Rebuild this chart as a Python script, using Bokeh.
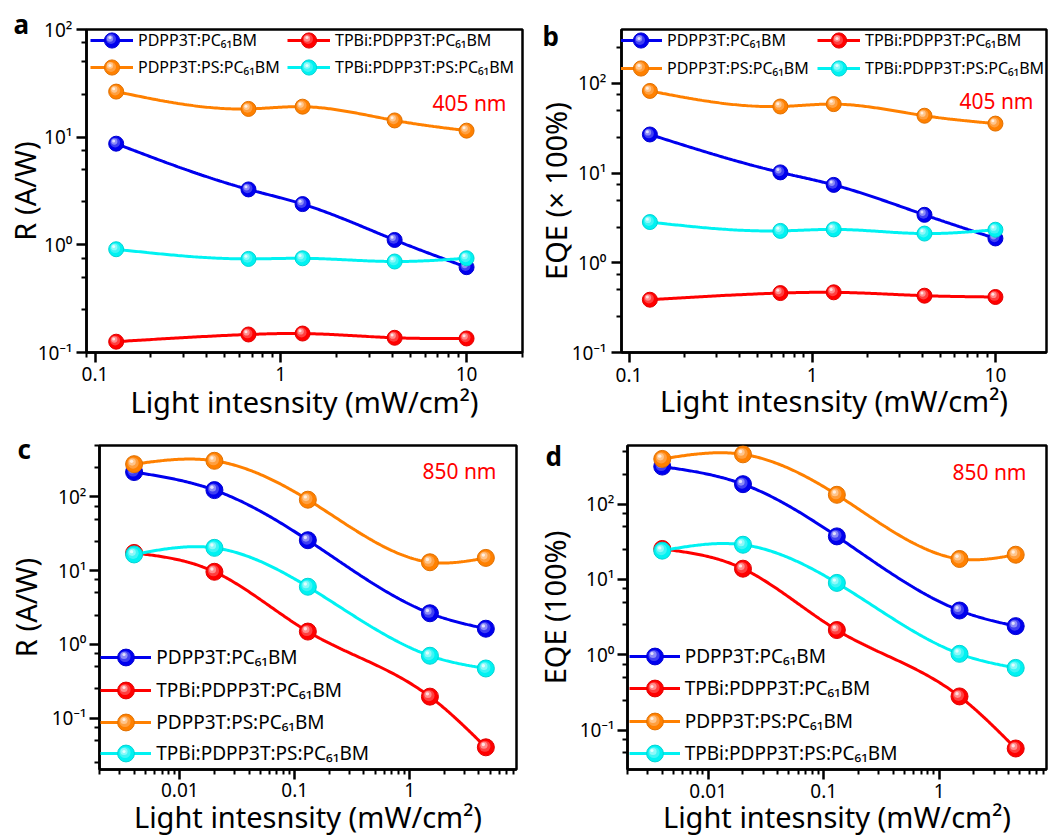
import numpy as np
from bokeh.plotting import figure
from bokeh.models import (FixedTicker, CustomJSTickFormatter, Legend, LegendItem,
                          Label, Range1d)
from bokeh.layouts import column, row
from bokeh.embed import file_html
from bokeh.resources import INLINE

FONT = "Noto Sans"

SERIES = ["PDPP3T:PC₆₁BM", "TPBi:PDPP3T:PC₆₁BM",
          "PDPP3T:PS:PC₆₁BM", "TPBi:PDPP3T:PS:PC₆₁BM"]
COLORS = ["#0000EE", "#FF0000", "#FF8000", "#00F2F2"]

X_LABEL = "Light intesnsity (mW/cm²)"

# ---- 405 nm illumination ----
intensity_405 = [0.13, 0.67, 1.31, 4.1, 10.0]
R_405_pdpp = [8.7, 3.27, 2.39, 1.11, 0.62]
R_405_tpbi = [0.126, 0.147, 0.150, 0.137, 0.135]
R_405_ps = [26.5, 18.3, 19.2, 14.3, 11.5]
R_405_tpbi_ps = [0.91, 0.74, 0.75, 0.70, 0.75]

EQE_405_pdpp = [27.0, 10.2, 7.4, 3.43, 1.87]
EQE_405_tpbi = [0.388, 0.46, 0.469, 0.43, 0.416]
EQE_405_ps = [82.6, 55.4, 58.9, 43.7, 35.7]
EQE_405_tpbi_ps = [2.85, 2.27, 2.36, 2.12, 2.34]

# ---- 850 nm illumination ----
intensity_850 = [0.004, 0.02, 0.13, 1.5, 4.6]
R_850_pdpp = [218, 124, 25.9, 2.64, 1.63]
R_850_tpbi = [17.4, 9.66, 1.49, 0.195, 0.040]
R_850_ps = [279, 310, 91.9, 13.0, 14.9]
R_850_tpbi_ps = [16.6, 20.4, 6.05, 0.70, 0.47]

EQE_850_pdpp = [315, 184, 37.3, 3.87, 2.40]
EQE_850_tpbi = [25.4, 13.9, 2.13, 0.28, 0.057]
EQE_850_ps = [398, 458, 133, 18.7, 21.3]
EQE_850_tpbi_ps = [24.1, 28.9, 9.0, 1.03, 0.67]

X_TICKS_405 = [0.1, 1, 10]
X_TICKS_850 = [0.01, 0.1, 1]
Y_TICKS = [0.1, 1, 10, 100]

# sphere shading layers: (size fraction, whiten amount, px left, px up)
SHADE = [(0.66, 0.25, 1.0, 1.1), (0.42, 0.55, 1.9, 2.1), (0.2, 0.88, 2.5, 2.8)]


def spline_path(xs, ys, n=60):
    """Natural cubic spline drawn through the points in log-log space (line rendering)."""
    lx = np.log10(np.asarray(xs, float))
    ly = np.log10(np.asarray(ys, float))
    k = len(lx)
    h = np.diff(lx)
    A = np.zeros((k, k))
    b = np.zeros(k)
    A[0, 0] = 1
    A[-1, -1] = 1
    for i in range(1, k - 1):
        A[i, i - 1] = h[i - 1]
        A[i, i] = 2 * (h[i - 1] + h[i])
        A[i, i + 1] = h[i]
        b[i] = 6 * ((ly[i + 1] - ly[i]) / h[i] - (ly[i] - ly[i - 1]) / h[i - 1])
    M = np.linalg.solve(A, b)
    px, py = [], []
    for i in range(k - 1):
        t = np.linspace(lx[i], lx[i + 1], n, endpoint=(i == k - 2))
        a_ = (lx[i + 1] - t) / h[i]
        b_ = (t - lx[i]) / h[i]
        yv = a_ * ly[i] + b_ * ly[i + 1] + ((a_ ** 3 - a_) * M[i] + (b_ ** 3 - b_) * M[i + 1]) * h[i] ** 2 / 6
        px.extend(t)
        py.extend(yv)
    return 10 ** np.array(px), 10 ** np.array(py)


def mix(c, t):
    r, g, b = int(c[1:3], 16), int(c[3:5], 16), int(c[5:7], 16)
    if t >= 0:
        r, g, b = [int(v + (255 - v) * t) for v in (r, g, b)]
    else:
        r, g, b = [int(v * (1 + t)) for v in (r, g, b)]
    return "#%02x%02x%02x" % (r, g, b)


def minor_log(decades, mults):
    return [m * d for d in decades for m in mults]


Y_FMT = CustomJSTickFormatter(code="""
const e = Math.round(Math.log10(tick));
const m = {"-": "\\u207B", "0": "\\u2070", "1": "\\u00B9", "2": "\\u00B2", "3": "\\u00B3"};
return "10" + String(e).split("").map((c) => m[c]).join("");
""")
X_FMT = CustomJSTickFormatter(code="return String(Number(tick.toPrecision(2)));")


def panel(cfg, xs, series):
    W, H = 524, cfg["H"]
    l, r, t, bt = cfg["border"]
    p = figure(width=W, height=H, x_axis_type="log", y_axis_type="log",
               x_range=Range1d(*cfg["xr"]), y_range=Range1d(*cfg["yr"]),
               output_backend="svg", toolbar_location=None,
               min_border_left=l, min_border_right=r, min_border_top=t, min_border_bottom=bt)
    p.grid.visible = False
    p.outline_line_color = "black"
    p.outline_line_width = 2.5
    p.outline_line_alpha = 1
    p.background_fill_color = "white"
    p.border_fill_color = "white"

    # panel letter as the figure title
    p.title.text = cfg["name"]
    p.title.align = "left"
    p.title.offset = cfg["letter"][0]
    p.title.standoff = cfg["letter"][1]
    p.title.text_font = FONT
    p.title.text_font_size = "26px"
    p.title.text_font_style = "bold"
    p.title.text_color = "black"

    p.xaxis.ticker = FixedTicker(ticks=cfg["xticks"], minor_ticks=cfg["xminor"])
    p.yaxis.ticker = FixedTicker(ticks=Y_TICKS,
                                 minor_ticks=minor_log([0.001, 0.01, 0.1, 1, 10, 100], [2.5, 5, 7.5]))
    p.xaxis.formatter = X_FMT
    p.yaxis.formatter = Y_FMT
    p.xaxis.axis_label = X_LABEL
    p.yaxis.axis_label = cfg["ylabel"]
    for ax in (p.xaxis[0], p.yaxis[0]):
        ax.axis_line_width = 2.5
        ax.major_tick_line_width = 2.5
        ax.minor_tick_line_width = 2
        ax.major_tick_out = 10
        ax.major_tick_in = 0
        ax.minor_tick_out = 5
        ax.minor_tick_in = 0
        ax.major_label_text_font = FONT
        ax.major_label_text_font_size = "19px"
        ax.major_label_text_color = "black"
        ax.axis_label_text_font = FONT
        ax.axis_label_text_font_size = "29px"
        ax.axis_label_text_font_style = "normal"
        ax.axis_label_text_color = "black"
    p.xaxis.major_label_standoff = cfg["sx"][0]
    p.xaxis.axis_label_standoff = cfg["sx"][1]
    p.yaxis.major_label_standoff = cfg["sy"][0]
    p.yaxis.axis_label_standoff = cfg["sy"][1]

    fw = W - l - r
    fh = H - t - bt
    ppdx = fw / np.log10(cfg["xr"][1] / cfg["xr"][0])
    ppdy = fh / np.log10(cfg["yr"][1] / cfg["yr"][0])

    size = cfg["msize"]
    gw, gh = cfg["glyph"]
    for k, (name, color, ys) in enumerate(zip(SERIES, COLORS, series)):
        sx, sy = spline_path(xs, ys)
        ln = p.line(sx, sy, line_color=color, line_width=3)
        base = p.scatter(xs, ys, size=size, fill_color=color, line_color=mix(color, -0.12),
                         line_width=1)
        shade_r = []
        for frac, lt, dx, dy in SHADE:
            hx = [v * 10 ** (-dx / ppdx) for v in xs]
            hy = [v * 10 ** (dy / ppdy) for v in ys]
            shade_r.append(p.scatter(hx, hy, size=size * frac, fill_color=mix(color, lt),
                                     line_color=None))

        # legend entry (own Legend object so each sits at its slot)
        lx, lyc = cfg["slots"][k]
        p.add_layout(Legend(
            items=[LegendItem(label=name, renderers=[ln, base])],
            location=(lx, lyc - gh / 2), orientation="vertical",
            label_text_font=FONT, label_text_font_size=cfg["lfont"], label_text_color="black",
            label_standoff=5, glyph_width=gw, glyph_height=gh, label_height=10,
            padding=0, margin=0, spacing=0,
            border_line_color=None, background_fill_alpha=0))
        # glossy highlight on the legend marker
        for (frac, lt, dx, dy), rr in zip(SHADE, shade_r):
            ghf = int(round(gh * frac))
            p.add_layout(Legend(
                items=[LegendItem(label=" ", renderers=[rr])],
                location=(lx - dx, lyc - ghf / 2 + dy), orientation="vertical",
                label_text_font=FONT, label_text_font_size="1px", label_standoff=0,
                glyph_width=gw, glyph_height=ghf, label_height=1,
                padding=0, margin=0, spacing=0,
                border_line_color=None, background_fill_alpha=0))

    wx, wy = cfg["wl_pos"]
    p.add_layout(Label(x=wx, y=wy, x_units="screen", y_units="screen", text=cfg["wl"],
                       text_font=FONT, text_font_size="21px", text_color="#FF0000",
                       text_baseline="alphabetic", text_align="right"))
    return p


x_minor_405 = [0.09] + minor_log([0.1, 1], range(2, 10)) + [20]
x_minor_850 = minor_log([0.001, 0.01, 0.1, 1], range(2, 10))

cfg_a = dict(name="a", H=423, border=(86, 2, 29, 69), xr=(0.09, 20), yr=(0.1, 100),
             xticks=X_TICKS_405, xminor=x_minor_405, ylabel="R (A/W)",
             sx=(4, -2), sy=(4, -9), msize=15, lfont="16px", glyph=(43, 38),
             slots=[(4, 312.3), (201, 312.3), (4, 284.7), (201, 284.7)],
             letter=(-73, -24), wl="405 nm", wl_pos=(420, 250))
cfg_b = dict(name="b", H=423, border=(97, 2, 29, 68), xr=(0.091, 19), yr=(0.1, 400),
             xticks=X_TICKS_405, xminor=x_minor_405, ylabel="EQE (× 100%)",
             sx=(5, -4), sy=(5, -6), msize=15, lfont="16px", glyph=(43, 38),
             slots=[(-2, 311.7), (196, 311.7), (-2, 284), (196, 284)],
             letter=(-79, -49), wl="405 nm", wl_pos=(412, 252))
cfg_c = dict(name="c", H=415, border=(99, 8, 22, 68), xr=(0.002, 8.5), yr=(0.02, 500),
             xticks=X_TICKS_850, xminor=x_minor_850, ylabel="R (A/W)",
             sx=(3, -3), sy=(3, 4), msize=17, lfont="19px", glyph=(51, 42),
             slots=[(1.3, 112), (1.3, 79.3), (1.3, 47.3), (1.3, 15.7)],
             letter=(-82, -42), wl="850 nm", wl_pos=(397, 299))
cfg_d = dict(name="d", H=415, border=(103, 2, 22, 67), xr=(0.002, 8.5), yr=(0.03, 600),
             xticks=X_TICKS_850, xminor=x_minor_850, ylabel="EQE (100%)",
             sx=(4, -4), sy=(3, 3), msize=17, lfont="19px", glyph=(51, 42),
             slots=[(1.7, 113.4), (1.7, 80.7), (1.7, 48.4), (1.7, 16.4)],
             letter=(-82, -56), wl="850 nm", wl_pos=(399, 298))

pa = panel(cfg_a, intensity_405, [R_405_pdpp, R_405_tpbi, R_405_ps, R_405_tpbi_ps])
pb = panel(cfg_b, intensity_405, [EQE_405_pdpp, EQE_405_tpbi, EQE_405_ps, EQE_405_tpbi_ps])
pc = panel(cfg_c, intensity_850, [R_850_pdpp, R_850_tpbi, R_850_ps, R_850_tpbi_ps])
pd = panel(cfg_d, intensity_850, [EQE_850_pdpp, EQE_850_tpbi, EQE_850_ps, EQE_850_tpbi_ps])

layout = column(row(pa, pb, spacing=0), row(pc, pd, spacing=0), spacing=0)
open("out.html", "w").write(file_html(layout, INLINE))
